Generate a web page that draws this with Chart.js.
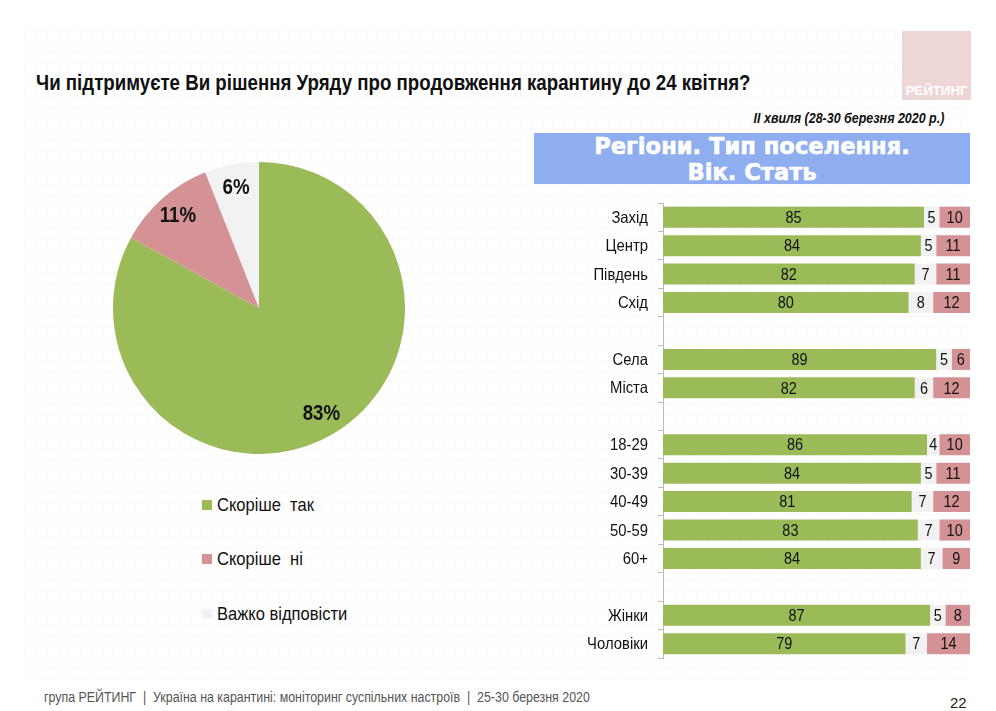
<!DOCTYPE html>
<html lang="uk">
<head>
<meta charset="utf-8">
<script src="https://cdn.jsdelivr.net/npm/chart.js@4"></script>
<style>
html, body { margin: 0; padding: 0; background: #fff; }
body { width: 996px; height: 711px; position: relative; overflow: hidden; font-family: "Liberation Sans", sans-serif; color: #111; }
.grid {
    position: absolute; left: 25px; top: 30px; width: 945px; height: 650px;
    background-image:
        linear-gradient(to right, rgba(0,0,0,0.02) 1px, transparent 1px),
        linear-gradient(to bottom, rgba(0,0,0,0.02) 1px, transparent 1px);
    background-size: 11px 11px;
}
.abs { position: absolute; white-space: nowrap; }
#title { left: 36px; top: 71px; font-size: 21.5px; font-weight: bold; transform: scaleX(0.869); transform-origin: left top; }
#wave { right: 52px; top: 110px; font-size: 14px; font-weight: bold; font-style: italic; transform: scaleX(0.89); transform-origin: right top; }
#logo { left: 902px; top: 31px; width: 69px; height: 69px; background: #efd6d6; }
#logo span { position: absolute; left: 0; right: 0; bottom: 2px; text-align: center; color: #fff; font-size: 13.3px; font-weight: bold; }
#head { left: 534px; top: 133px; width: 436px; height: 51px; background: #8faeef; color: #fff; text-align: center; font: bold 22.6px/26px "DejaVu Sans", sans-serif; -webkit-text-stroke: 0.6px #fff; }
#legend div { position: absolute; left: 0; font-size: 19px; white-space: pre; transform: scaleX(0.87); transform-origin: left center; }
#legend i { position: absolute; left: 202px; width: 10px; height: 10px; }
#footer { left: 44px; top: 689px; font-size: 14px; color: #555; transform: scaleX(0.885); transform-origin: left top; }
#page { left: 950px; top: 694px; font-size: 15px; color: #222; }
canvas { display: block; }
.box { position: absolute; }
</style>
</head>
<body>
<div class="grid"></div>
<div class="abs" id="logo"><span>РЕЙТИНГ</span></div>
<div class="abs" id="title">Чи підтримуєте Ви рішення Уряду про продовження карантину до 24 квітня?</div>
<div class="abs" id="wave">ІІ хвиля (28-30 березня 2020 р.)</div>
<div class="abs" id="head">Регіони. Тип поселення.<br>Вік. Стать</div>

<div class="box" style="left:109px;top:158px;width:300px;height:300px"><canvas id="pie"></canvas></div>
<div class="box" style="left:530px;top:195px;width:440px;height:470px"><canvas id="bars"></canvas></div>

<div id="legend"></div>

<div class="abs" id="footer">група РЕЙТИНГ &nbsp;|&nbsp; Україна на карантині: моніторинг суспільних настроїв &nbsp;|&nbsp; 25-30 березня 2020</div>
<div class="abs" id="page">22</div>

<script>
const GREEN = '#9bbb59', PINK = '#d49294', GREY = '#f2f2f2';

const pieLabels = ['Скоріше  так', 'Скоріше  ні', 'Важко відповісти'];
const pieValues = [83, 11, 6];
const pieColors = [GREEN, PINK, GREY];

const categories = ['Захід', 'Центр', 'Південь', 'Схід', '', 'Села', 'Міста', '', '18-29', '30-39', '40-49', '50-59', '60+', '', 'Жінки', 'Чоловіки'];
const yesValues  = [85, 84, 82, 80, null, 89, 82, null, 86, 84, 81, 83, 84, null, 87, 79];
const hardValues = [5, 5, 7, 8, null, 5, 6, null, 4, 5, 7, 7, 7, null, 5, 7];
const noValues   = [10, 11, 11, 12, null, 6, 12, null, 10, 11, 12, 10, 9, null, 8, 14];

Chart.defaults.font.family = '"Liberation Sans", sans-serif';
Chart.defaults.animation = false;

// вужчий текст, як у оригіналі
function narrowText(ctx, text, x, y, squeeze) {
    ctx.save();
    ctx.translate(x, y);
    ctx.scale(squeeze, 1);
    ctx.fillText(text, 0, 0);
    ctx.restore();
}

// підписи значень на сегментах
const valueLabels = {
    id: 'valueLabels',
    afterDatasetsDraw(chart, args, opts) {
        const { ctx } = chart;
        ctx.save();
        ctx.textAlign = 'center';
        ctx.textBaseline = 'middle';
        ctx.fillStyle = opts.color;
        ctx.font = opts.font;
        chart.data.datasets.forEach((ds, i) => {
            chart.getDatasetMeta(i).data.forEach((el, j) => {
                if (ds.data[j] == null) return;
                let x, y;
                if (chart.config.type === 'pie') {
                    const mid = (el.startAngle + el.endAngle) / 2;
                    x = el.x + Math.cos(mid) * el.outerRadius * 0.84;
                    y = el.y + Math.sin(mid) * el.outerRadius * 0.84;
                } else {
                    const c = el.getCenterPoint();
                    x = c.x; y = c.y + 1;
                }
                narrowText(ctx, ds.data[j] + (opts.suffix || ''), x, y, 0.85);
            });
        });
        ctx.restore();
    },
};

// підписи категорій
const categoryLabels = {
    id: 'categoryLabels',
    afterDraw(chart) {
        const { ctx } = chart;
        const axis = chart.scales.y;
        ctx.save();
        ctx.textAlign = 'right';
        ctx.textBaseline = 'middle';
        ctx.fillStyle = '#111';
        ctx.font = '16.5px "Liberation Sans"';
        axis.ticks.forEach((tick, i) => {
            const label = axis.getLabelForValue(tick.value);
            if (label) narrowText(ctx, label, axis.right - 15, axis.getPixelForTick(i) + 1, 0.9);
        });
        ctx.restore();
    },
};

new Chart(document.getElementById('pie'), {
    type: 'pie',
    data: { labels: pieLabels, datasets: [{ data: pieValues, backgroundColor: pieColors, borderWidth: 0 }] },
    options: {
        responsive: true,
        maintainAspectRatio: false,
        layout: { padding: 4 },
        plugins: {
            legend: { display: false },
            tooltip: { enabled: false },
            valueLabels: { font: 'bold 22px "Liberation Sans"', color: '#111', suffix: '%' },
        },
    },
    plugins: [valueLabels],
});

function barSet(label, data, color) {
    return { label, data, backgroundColor: color, borderWidth: 0, categoryPercentage: 1, barPercentage: 0.74 };
}

new Chart(document.getElementById('bars'), {
    type: 'bar',
    data: {
        labels: categories,
        datasets: [
            barSet('Скоріше так', yesValues, GREEN),
            barSet('Важко відповісти', hardValues, GREY),
            barSet('Скоріше ні', noValues, PINK),
        ],
    },
    options: {
        indexAxis: 'y',
        responsive: true,
        maintainAspectRatio: false,
        layout: { padding: { top: 8, bottom: 7, right: 0 } },
        scales: {
            x: { stacked: true, min: 0, max: 100, display: false },
            y: {
                stacked: true,
                afterFit(axis) { axis.width = 133; axis.paddingTop = 0; axis.paddingBottom = 0; },
                grid: { offset: true, drawOnChartArea: false, tickLength: 5, color: '#bbb' },
                border: { color: '#bbb' },
                ticks: { display: false, autoSkip: false },
            },
        },
        plugins: {
            legend: { display: false },
            tooltip: { enabled: false },
            valueLabels: { font: '17px "Liberation Sans"', color: '#111' },
        },
    },
    plugins: [valueLabels, categoryLabels],
});

const legendBox = document.getElementById('legend');
const legendY = [505, 559, 614];
pieLabels.forEach((text, i) => {
    legendBox.insertAdjacentHTML('beforeend',
        `<i style="top:${legendY[i] - 5}px;background:${pieColors[i]}"></i>` +
        `<div style="left:217px;top:${legendY[i] - 11}px">${text}</div>`);
});
</script>
</body>
</html>
